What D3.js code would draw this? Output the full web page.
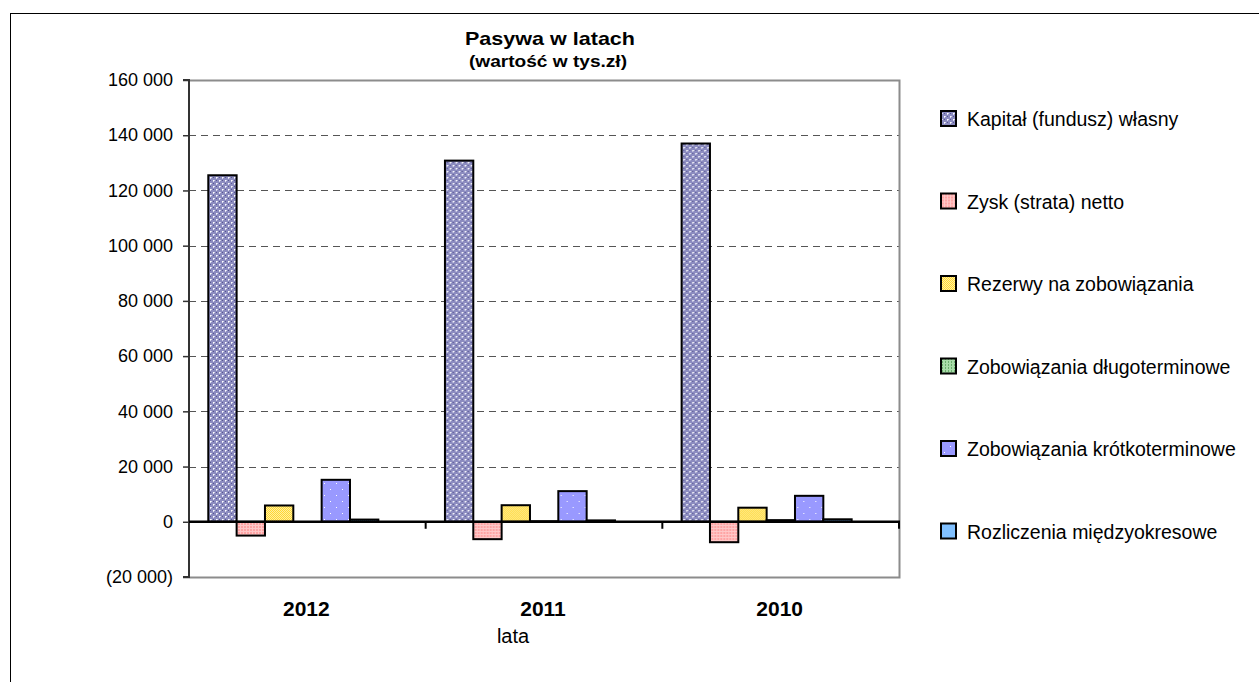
<!DOCTYPE html>
<html>
<head>
<meta charset="utf-8">
<script src="https://cdn.jsdelivr.net/npm/d3@7"></script>
<style>
  body { margin: 0; background: #fff; }
  svg { display: block; font-family: "Liberation Sans", Arial, sans-serif; }
</style>
</head>
<body>
<svg id="chart" width="1259" height="682"></svg>
<script>
// dane z wykresu (tys. zł)
const years = ["2012", "2011", "2010"]
const seriesNames = [
  "Kapitał (fundusz) własny",
  "Zysk (strata) netto",
  "Rezerwy na zobowiązania",
  "Zobowiązania długoterminowe",
  "Zobowiązania krótkoterminowe",
  "Rozliczenia międzyokresowe"
]
const kapital = [125500, 130800, 137000]
const zysk = [-5000, -6300, -7400]
const rezerwy = [5900, 6000, 5100]
const dlugo = [0, 200, 600]
const krotko = [15200, 11100, 9400]
const rozliczenia = [800, 500, 900]
const yTicks = [-20000, 0, 20000, 40000, 60000, 80000, 100000, 120000, 140000, 160000]

const values = [kapital, zysk, rezerwy, dlugo, krotko, rozliczenia]
const patIds = ["pKap", "pZysk", "pRez", "pDlug", "pKrot", "pRozl"]

const svg = d3.select("#chart")
const defs = svg.append("defs")

// wzory wypełnień (jak w Excelu)
function pattern(id, size, bg, dots) {
  const p = defs.append("pattern").attr("id", id)
    .attr("width", size).attr("height", size).attr("patternUnits", "userSpaceOnUse")
  p.append("rect").attr("width", size).attr("height", size).attr("fill", bg)
  dots.forEach(d => p.append("rect").attr("x", d[0]).attr("y", d[1])
    .attr("width", d[2]).attr("height", d[3]).attr("fill", d[4]))
}
pattern("pKap", 6, "#8c8cc0", [[0, 0, 1, 1, "#ffffff"], [3, 3, 1, 1, "#ffffff"], [1, 0, 1, 1, "#d8d8ec"], [0, 1, 1, 1, "#d8d8ec"], [4, 3, 1, 1, "#d8d8ec"], [3, 4, 1, 1, "#d8d8ec"], [3, 0, 1, 1, "#55558f"], [0, 3, 1, 1, "#55558f"]])
pattern("pZysk", 3, "#ffa4a4", [[0, 0, 3, 1, "#ffc8c8"], [0, 0, 1, 3, "#ffc8c8"]])
pattern("pRez", 2, "#ffd633", [[0, 0, 1, 1, "#fff0a0"], [1, 1, 1, 1, "#fff0a0"]])
pattern("pDlug", 3, "#a8dca8", [[1, 1, 1, 1, "#2e7d32"]])
pattern("pKrot", 12, "#9999ff", [[3, 3, 1, 1, "#ffffff"], [9, 9, 1, 1, "#ffffff"]])
pattern("pRozl", 2, "#3399ff", [[0, 0, 1, 1, "#cce6ff"], [1, 1, 1, 1, "#cce6ff"]])

// ramka zewnętrzna
svg.append("rect").attr("x", 10.5).attr("y", 13.5).attr("width", 1300).attr("height", 700)
  .attr("fill", "none").attr("stroke", "#000").attr("stroke-width", 1)

const plot = { left: 189, top: 80, right: 899, bottom: 577 }

const y = d3.scaleLinear().domain([-20000, 160000]).range([plot.bottom, plot.top])
const x0 = d3.scaleBand().domain(years).range([plot.left, plot.right])
const gap = x0.bandwidth() * 0.0815
const x1 = d3.scaleBand().domain(seriesNames).range([gap, gap + x0.bandwidth() * 0.7185])

// siatka
svg.append("g").selectAll("line")
  .data(yTicks.filter(t => t > 0 && t < 160000))
  .join("line")
  .attr("x1", plot.left).attr("x2", plot.right)
  .attr("y1", d => Math.round(y(d)) + 0.5).attr("y2", d => Math.round(y(d)) + 0.5)
  .attr("stroke", "#555").attr("stroke-dasharray", "7,5")

// obramowanie obszaru wykresu
svg.append("path")
  .attr("d", `M${plot.left},${plot.top + 0.5}H${plot.right + 0.5}V${plot.bottom + 0.5}H${plot.left}`)
  .attr("fill", "none").attr("stroke", "#8c8c8c").attr("stroke-width", 2)

// słupki
const groups = svg.append("g").selectAll("g")
  .data(years).join("g")
  .attr("transform", d => `translate(${x0(d)},0)`)

groups.selectAll("rect")
  .data((yr, i) => seriesNames.map((s, k) => ({ s, k, v: values[k][i] })))
  .join("rect")
  .attr("x", d => x1(d.s))
  .attr("width", x1.bandwidth())
  .attr("y", d => y(Math.max(0, d.v)))
  .attr("height", d => Math.abs(y(d.v) - y(0)))
  .attr("fill", d => `url(#${patIds[d.k]})`)
  .attr("stroke", "#000").attr("stroke-width", 2)

// oś Y
const yAxis = d3.axisLeft(y).tickValues(yTicks).tickSize(6).tickPadding(10)
  .tickFormat(d => {
    const s = d3.format(",")(Math.abs(d)).replace(/,/g, " ")
    return d < 0 ? `(${s})` : s
  })
const ya = svg.append("g").attr("transform", `translate(${plot.left},0)`).call(yAxis)
ya.select(".domain").attr("stroke", "#333").attr("stroke-width", 2).attr("d", `M-6,${plot.top}H0V${plot.bottom}H-6`)
ya.selectAll(".tick line").attr("stroke", "#333").attr("stroke-width", 1.5)
ya.selectAll("text").attr("font-size", 18).attr("fill", "#000")
  .attr("font-family", "Liberation Sans, Arial, sans-serif")

// linia zera i podziałka kategorii
svg.append("line").attr("x1", plot.left).attr("x2", plot.right + 1)
  .attr("y1", y(0)).attr("y2", y(0)).attr("stroke", "#000").attr("stroke-width", 2.5)
svg.append("g").selectAll("line")
  .data(years.slice(1).map(d => x0(d)).concat([plot.right]))
  .join("line")
  .attr("x1", d => d).attr("x2", d => d)
  .attr("y1", y(0)).attr("y2", y(0) + 7)
  .attr("stroke", "#000").attr("stroke-width", 2)

// etykiety kategorii
svg.append("g").selectAll("text")
  .data(years).join("text")
  .attr("x", d => x0(d) + x0.bandwidth() / 2 - 1)
  .attr("y", 616)
  .attr("text-anchor", "middle")
  .attr("font-size", 21).attr("font-weight", "bold")
  .text(d => d)

svg.append("text").attr("x", 513).attr("y", 643).attr("text-anchor", "middle")
  .attr("font-size", 20).text("lata")

// tytuł
svg.append("text").attr("x", 550).attr("y", 45).attr("text-anchor", "middle")
  .attr("font-size", 19).attr("font-weight", "bold")
  .attr("textLength", 170).attr("lengthAdjust", "spacingAndGlyphs").text("Pasywa w latach")
svg.append("text").attr("x", 548).attr("y", 67).attr("text-anchor", "middle")
  .attr("font-size", 16).attr("font-weight", "bold")
  .attr("textLength", 158).attr("lengthAdjust", "spacingAndGlyphs").text("(wartość w tys.zł)")

// legenda
const legend = svg.append("g").selectAll("g")
  .data(seriesNames).join("g")
  .attr("transform", (d, i) => `translate(941,${119 + i * 82.5})`)
legend.append("rect").attr("x", 0).attr("y", -8).attr("width", 15).attr("height", 15)
  .attr("fill", (d, i) => `url(#${patIds[i]})`).attr("stroke", "#000").attr("stroke-width", 2)
legend.append("text").attr("x", 26).attr("y", 7).attr("font-size", 19.5).text(d => d)
</script>
</body>
</html>
